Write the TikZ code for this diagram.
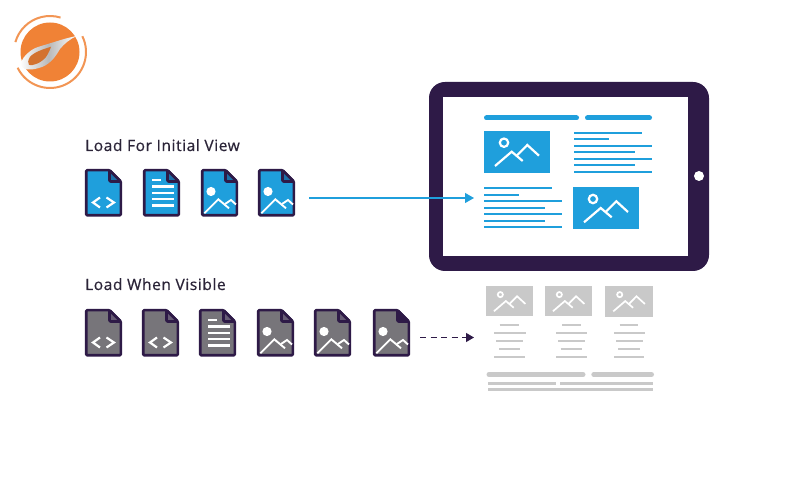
\documentclass[tikz,border=0pt]{standalone}
\usepackage{fontspec}
\setmainfont{Open Sans}[FakeBold=0.6,LetterSpace=3.8]
\usetikzlibrary{arrows.meta}
\definecolor{tabletdark}{HTML}{2E1A47}
\definecolor{webblue}{HTML}{1F9FDC}
\definecolor{filegrey}{HTML}{77757A}
\definecolor{foldgrey}{HTML}{675C75}
\definecolor{foldblue}{HTML}{1C6FA8}
\definecolor{lightgrey}{HTML}{C9C9C9}
\definecolor{logoorange}{HTML}{F08236}
\definecolor{labeltext}{HTML}{2B2438}
\tikzset{
  x=1pt,y=-1pt,
  filebody/.style={line width=2.6pt,draw=tabletdark,line join=round,rounded corners=1pt},
  fileline/.style={draw=white,line width=2.2pt},
  filethin/.style={draw=white,line width=1.9pt},
  heading/.style={anchor=base west,inner sep=0pt,text=labeltext,font=\fontsize{15.5}{18}\selectfont},
  bluebar/.style={draw=webblue,line width=5pt,line cap=round},
  bluetext/.style={draw=webblue,line width=2.3pt},
  greytext/.style={draw=lightgrey,line width=1.8pt},
  greybar/.style={draw=lightgrey,line width=5pt,line cap=round},
  greythin/.style={draw=lightgrey,line width=2.6pt},
}
% #1 x, #2 y, #3 body fill, #4 fold fill, #5 glyph
\newcommand{\fileicon}[5]{%
  \begin{scope}[shift={(#1,#2)}]
    \path[filebody,fill=#3] (1.2,1.2)--(24.5,1.2)--(35.8,12.5)--(35.8,46.3)--(1.2,46.3)--cycle;
    \path[filebody,fill=#4] (24.5,1.2)--(24.5,12.5)--(35.8,12.5)--cycle;
    #5
  \end{scope}}
\newcommand{\glyphcode}{%
  \draw[fileline] (15,28.5)--(8,33.5)--(15,38.5);
  \draw[fileline] (21.5,28.5)--(29,33.5)--(21.5,38.5);}
\newcommand{\glyphdoc}{%
  \draw[fileline] (9,11)--(17.5,11);
  \foreach \yy in {17.5,24,30,36.5}{\draw[fileline] (9,\yy)--(30.5,\yy);}}
\newcommand{\glyphimg}{%
  \fill[white] (10,22.5) circle[radius=4.6];
  \draw[filethin] (3.3,44.3)--(17.3,30.3)--(28,39.3);
  \draw[filethin] (24,35)--(30,31)--(35,35.5);}
% #1 x,#2 y,#3 scale,#4 fill,#5 line width,#6 ring radius
\newcommand{\picbox}[6]{%
  \begin{scope}[shift={(#1,#2)},scale=#3]
    \fill[#4] (0,0) rectangle (66,42.5);
    \draw[white,line width=#5] (20,12) circle[radius=#6];
    \draw[white,line width=#5] (11,35.3)--(27.7,21)--(38.7,30.3);
    \draw[white,line width=#5] (32.7,25)--(43.3,14.3)--(55,25);
  \end{scope}}
\begin{document}
\begin{tikzpicture}
\useasboundingbox (0,0) rectangle (801,502);
\fill[white] (0,0) rectangle (801,502);

% logo
\fill[logoorange] (50,52) circle[radius=29.5];
\draw[logoorange!85,line width=2pt] (50,52) ++(-164:36) arc[start angle=-164,end angle=-73,radius=36];
\draw[logoorange!85,line width=2pt] (50,52) ++(-26:36) arc[start angle=-26,end angle=154,radius=36];
\shade[left color=white,right color=white,middle color=gray!55]
  (76.7,36) .. controls (66,38) and (58,41) .. (50,43.3)
  .. controls (42,46) and (36,47) .. (31.7,50)
  .. controls (26,54) and (20,60) .. (21,66)
  .. controls (24,71) and (34,70) .. (42,67)
  .. controls (52,63) and (57,54) .. (60,49)
  .. controls (64,44) and (70,39) .. cycle;
\fill[logoorange!88!black]
  (51,46.7) .. controls (44,49) and (34,52) .. (30,57)
  .. controls (28,60) and (27.5,63) .. (29,65)
  .. controls (33,66) and (41,63) .. (46,57)
  .. controls (48,54) and (50,50) .. cycle;

% headings
\node[heading] (loadinitial) at (85,151) {Load For Initial View};
\node[heading] (loadvisible) at (85,290) {Load When Visible};

% first row of files
\fileicon{85}{169}{webblue}{foldblue}{\glyphcode}
\fileicon{143}{169}{webblue}{foldblue}{\glyphdoc}
\fileicon{201}{169}{webblue}{foldblue}{\glyphimg}
\fileicon{258}{169}{webblue}{foldblue}{\glyphimg}

% second row of files
\fileicon{85}{309}{filegrey}{foldgrey}{\glyphcode}
\fileicon{142}{309}{filegrey}{foldgrey}{\glyphcode}
\fileicon{199}{309}{filegrey}{foldgrey}{\glyphdoc}
\fileicon{257}{309}{filegrey}{foldgrey}{\glyphimg}
\fileicon{314}{309}{filegrey}{foldgrey}{\glyphimg}
\fileicon{373}{309}{filegrey}{tabletdark}{\glyphimg}

% tablet
\fill[tabletdark] (429,82) [rounded corners=16pt] rectangle (709,271);
\fill[white] (443,97) rectangle (688,256);
\fill[white] (699,176) circle[radius=5];

\draw[bluebar] (486.5,118)--(576.5,118);
\draw[bluebar] (587.5,118)--(649.5,118);
\picbox{484}{130.7}{1}{webblue}{2.2pt}{4.2}
\picbox{573}{187}{1}{webblue}{2.2pt}{4.2}
\foreach \yy/\xe in {133/641.7,139.3/609,145.7/652,152.3/635,158.7/652,165.3/635,171.7/652}{
  \draw[bluetext] (574,\yy)--(\xe,\yy);}
\foreach \yy/\xe in {188/552,194.7/519.3,201/562.3,207.7/545.3,214/562.3,220.7/545.3,227/562.3}{
  \draw[bluetext] (484,\yy)--(\xe,\yy);}

% connectors
\coordinate (bluestart) at (309,198);
\coordinate (blueend) at (474,198);
\draw[webblue,line width=1.1pt,-{Triangle[length=9pt,width=10pt]}] (bluestart)--(blueend);
\coordinate (dashstart) at (420,337.5);
\coordinate (dashend) at (474,337.5);
\draw[tabletdark,line width=1.3pt,dash pattern=on 6pt off 4.5pt,-{Triangle[length=8pt,width=9pt]}] (dashstart)--(dashend);

% page below the tablet
\picbox{486}{286}{.717}{lightgrey}{1.7pt}{3.6}
\picbox{545}{286}{.717}{lightgrey}{1.7pt}{3.6}
\picbox{605.3}{286}{.72}{lightgrey}{1.7pt}{3.6}
\foreach \yy/\xs/\xe in {325/499.7/519,333/494/525.7,341/496/522.7,348.7/499/520,356.7/494/525,
  325/562.3/581,333/556/586.7,341/558.3/584.7,348.7/560.7/581.7,356.7/556/586.7,
  325/619.7/638.3,333/614/645,341/616/642.7,348.7/618.3/640,356.7/614/644}{
  \draw[greytext] (\xs,\yy)--(\xe,\yy);}
\draw[greybar] (489,374.5)--(583,374.5);
\draw[greybar] (593.8,374.5)--(651.5,374.5);
\draw[greythin] (488,383.7)--(556,383.7);
\draw[greythin] (560,383.7)--(653,383.7);
\draw[greythin] (488,389.3)--(653,389.3);
\end{tikzpicture}
\end{document}
